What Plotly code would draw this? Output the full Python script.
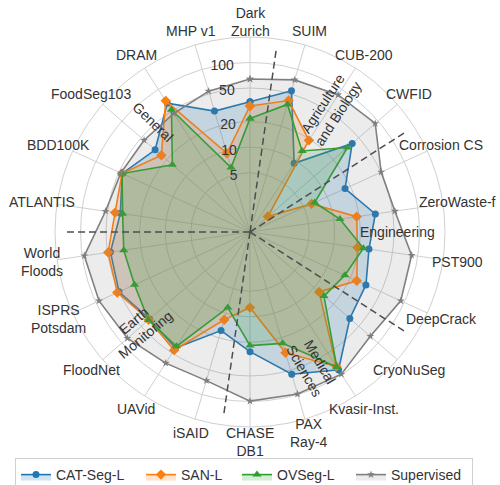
import math
import plotly.graph_objects as go

categories = ["Dark<br>Zurich", "SUIM", "CUB-200", "CWFID", "Corrosion CS", "ZeroWaste-f",
              "PST900", "DeepCrack", "CryoNuSeg", "Kvasir-Inst.", "PAX<br>Ray-4", "CHASE<br>DB1",
              "iSAID", "UAVid", "FloodNet", "ISPRS<br>Potsdam", "World<br>Floods", "ATLANTIS",
              "BDD100K", "FoodSeg103", "DRAM", "MHP v1"]

cat_seg_l = [34.5, 54.7, 9.2, 39.4, 17.1, 31.2, 26.2, 31.9, 36.2, 85.6, 56.1, 25.8,
             16.3, 42.4, 37.1, 50.0, 46.1, 35.1, 45.7, 30.3, 63.9, 30.7]
san_l = [30.7, 41.4, 19.3, 1.9, 6.3, 18.7, 19.1, 24.3, 12.0, 76.8, 30.6, 7.8,
         12.0, 45.4, 38.1, 52.7, 49.1, 40.6, 45.7, 24.2, 69.1, 9.3]
ovseg_l = [21.9, 37.1, 13.7, 33.3, 6.9, 11.8, 22.5, 17.0, 14.3, 78.3, 23.4, 21.9,
           8.5, 40.2, 38.6, 31.5, 32.0, 33.0, 45.7, 16.3, 51.8, 6.2]
supervised = [63.9, 74.2, 83.8, 90.2, 50.3, 53.4, 84.5, 90.2, 75.6, 98.7, 98.4, 99.0,
              67.3, 69.1, 82.2, 90.7, 94.5, 52.8, 47.4, 45.1, 46.0, 54.0]

radial_ticks = [5, 10, 20, 50, 100]
radial_min, radial_max = 1, 200
separator_positions = [0.5, 3.5, 7.5, 11.5, 16.5]   # in category index units
separator_end = 150

# domain labels: text, x(px), y(px), rotation(deg, clockwise)
domain_labels = [
    ("General", 153, 122, 44),
    ("Agriculture<br>and Biology", 330, 109, -57),
    ("Engineering", 397, 232, 0),
    ("Medical<br>Sciences", 312, 366, 60),
    ("Earth<br>Monitoring", 139, 328, -40),
]

W, H = 500, 485
n = len(categories)
step = 360.0 / n
thetas = [i * step for i in range(n)]

series = [
    ("CAT-Seg-L", cat_seg_l, "#1f77b4", "rgba(31,119,180,0.2)", "circle", 7, 80),
    ("SAN-L", san_l, "#ff7f0e", "rgba(255,127,14,0.2)", "diamond", 8, 51),
    ("OVSeg-L", ovseg_l, "#2ca02c", "rgba(44,160,44,0.2)", "triangle-up", 8, 69),
    ("Supervised", supervised, "#7f7f7f", "rgba(127,127,127,0.15)", "star", 6, 76),
]

fig = go.Figure()
for name, vals, col, fcol, sym, ms, lw in series:
    fig.add_trace(go.Scatterpolar(
        r=vals + vals[:1], theta=thetas + thetas[:1], name=name, mode="lines+markers",
        line=dict(color=col, width=1.6), marker=dict(symbol=sym, size=ms, color=col),
        fill="toself", fillcolor=fcol, legendwidth=lw,
    ))

for s in separator_positions:
    fig.add_trace(go.Scatterpolar(
        r=[radial_min, separator_end], theta=[s * step, s * step], mode="lines",
        line=dict(color="#4d4d4d", width=1.5, dash="7px,4px"), showlegend=False,
        hoverinfo="skip",
    ))

R = 195
cx, cy = 250, 232
label_r = 210
rad_angle = 92


def to_paper(x, y):
    return x / W, 1 - y / H


fig.update_layout(
    width=W, height=H,
    margin=dict(l=0, r=0, t=0, b=0, autoexpand=False),
    paper_bgcolor="white",
    font=dict(family="Liberation Sans, Arial, sans-serif", size=14, color="#333333"),
    polar=dict(
        domain=dict(x=[(cx - R) / W, (cx + R) / W], y=[1 - (cy + R) / H, 1 - (cy - R) / H]),
        bgcolor="white",
        gridshape="linear",
        angularaxis=dict(
            direction="clockwise", rotation=90, thetaunit="degrees",
            tickmode="array", tickvals=thetas, ticktext=categories, showticklabels=False,
            showgrid=True, gridcolor="#d0d0d0", gridwidth=1,
            showline=True, linecolor="#d0d0d0", linewidth=1, ticks="",
        ),
        radialaxis=dict(
            type="log", range=[math.log10(radial_min), math.log10(radial_max)],
            angle=rad_angle, tickangle=rad_angle, side="counterclockwise",
            tickmode="array", tickvals=radial_ticks, ticktext=[str(t) for t in radial_ticks],
            showgrid=True, gridcolor="#d0d0d0", gridwidth=1,
            showline=False, ticks="", tickfont=dict(size=14, color="#333333"),
        ),
    ),
    legend=dict(
        orientation="h", x=244 / W, xanchor="center", y=1 - 458 / H,
        yanchor="top", bordercolor="#d0d0d0", borderwidth=1, bgcolor="white",
        font=dict(size=14, color="#333333"),
    ),
    showlegend=True,
)

# category labels, centred on a circle outside the frame (as in the reference)
for th, lab in zip(thetas, categories):
    a = math.radians(90 - th)
    px, py = cx + label_r * math.cos(a), cy - label_r * math.sin(a)
    xp, yp = to_paper(px, py)
    fig.add_annotation(text=lab, x=xp, y=yp, xref="paper", yref="paper", showarrow=False,
                       xanchor="center", yanchor="middle", align="center", borderpad=0,
                       font=dict(size=14, color="#333333"))

for text, px, py, ang in domain_labels:
    xp, yp = to_paper(px, py)
    fig.add_annotation(
        text=text, x=xp, y=yp, xref="paper", yref="paper",
        showarrow=False, textangle=ang, font=dict(size=14, color="#333333"),
        xanchor="center", yanchor="middle",
    )

# remove the default page margin so the figure fills the window exactly
fig.write_html("out.html", config={"displayModeBar": False},
               post_script="document.body.style.margin='0px';")
